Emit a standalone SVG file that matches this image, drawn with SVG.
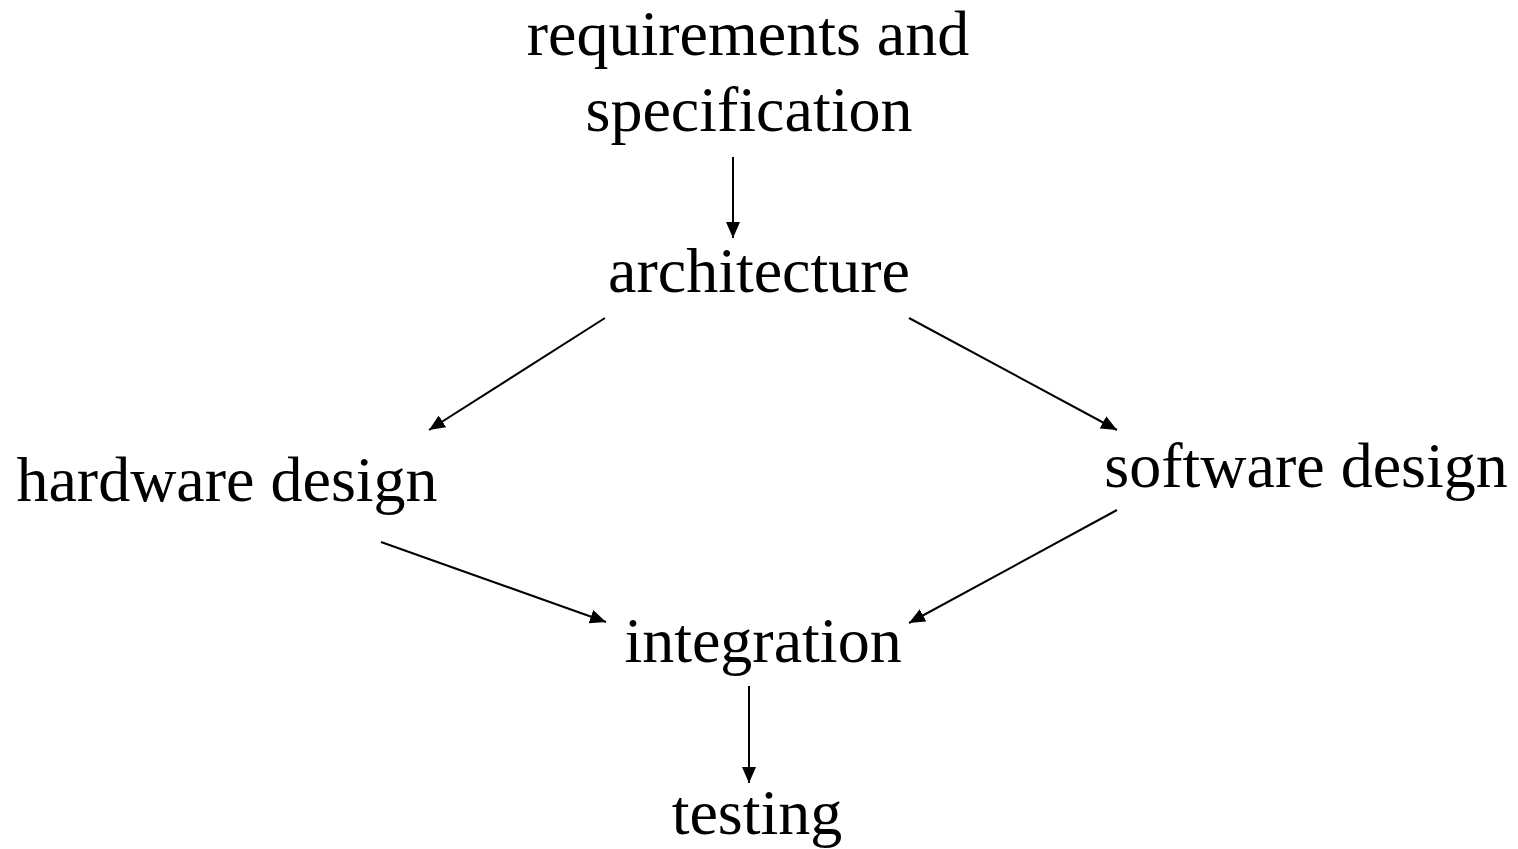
<svg xmlns="http://www.w3.org/2000/svg" width="1518" height="849" viewBox="0 0 1518 849">
<style>
text{font-family:"Liberation Serif","Times New Roman",serif;font-size:64px;fill:#000;text-anchor:middle}
.c line{stroke:#000;stroke-width:2;fill:none}
</style>
<defs>
<marker id="ah" markerUnits="userSpaceOnUse" viewBox="0 0 16 14" refX="16" refY="7" markerWidth="16" markerHeight="14" orient="auto">
<path d="M0,0L16,7L0,14Z" fill="#000"/>
</marker>
</defs>
<rect width="1518" height="849" fill="#fff"/>
<g id="req"><text x="748" y="55">requirements and</text><text x="749" y="131">specification</text></g>
<g id="arch"><text x="759" y="292">architecture</text></g>
<g id="hw"><text x="227" y="501">hardware design</text></g>
<g id="sw"><text x="1306" y="487">software design</text></g>
<g id="integ"><text x="763" y="662">integration</text></g>
<g id="test"><text x="757" y="834">testing</text></g>
<g class="c" id="connectors">
<line x1="733" y1="157" x2="733" y2="238" marker-end="url(#ah)"/>
<line x1="605" y1="318" x2="429" y2="430" marker-end="url(#ah)"/>
<line x1="909" y1="318" x2="1117" y2="430" marker-end="url(#ah)"/>
<line x1="381" y1="542" x2="606" y2="622" marker-end="url(#ah)"/>
<line x1="1117" y1="510" x2="909" y2="623" marker-end="url(#ah)"/>
<line x1="749" y1="686" x2="749" y2="783" marker-end="url(#ah)"/>
</g>
</svg>
